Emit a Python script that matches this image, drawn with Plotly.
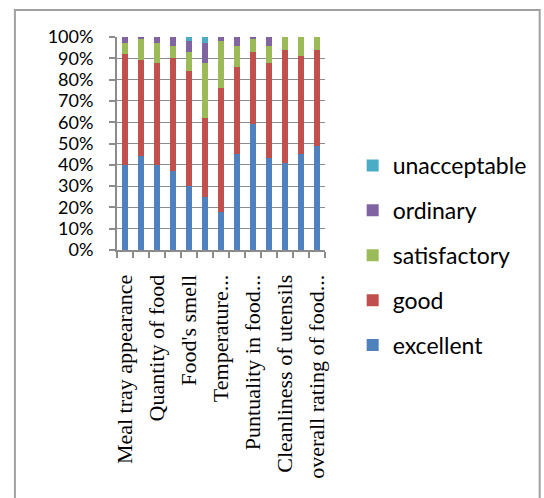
import plotly.graph_objects as go

categories = ["Meal tray appearance", "", "Quantity of food", "", "Food's smell", "",
              "Temperature...", "", "Puntuality in food...", "", "Cleanliness of utensils", "",
              "overall rating of food..."]
excellent    = [0.40, 0.44, 0.40, 0.37, 0.30, 0.25, 0.18, 0.45, 0.59, 0.43, 0.41, 0.45, 0.49]
good         = [0.52, 0.45, 0.48, 0.53, 0.54, 0.37, 0.58, 0.41, 0.34, 0.45, 0.53, 0.46, 0.45]
satisfactory = [0.05, 0.10, 0.09, 0.06, 0.09, 0.26, 0.22, 0.10, 0.06, 0.08, 0.06, 0.09, 0.06]
ordinary     = [0.03, 0.01, 0.03, 0.04, 0.05, 0.09, 0.02, 0.04, 0.01, 0.04, 0.00, 0.00, 0.00]
unacceptable = [0.00, 0.00, 0.00, 0.00, 0.02, 0.03, 0.00, 0.00, 0.00, 0.00, 0.00, 0.00, 0.00]

series = [("excellent", excellent, "#4F81BD"),
          ("good", good, "#C0504D"),
          ("satisfactory", satisfactory, "#9BBB59"),
          ("ordinary", ordinary, "#8064A2"),
          ("unacceptable", unacceptable, "#4BACC6")]

xpos = list(range(len(categories)))
shown = [i for i, c in enumerate(categories) if c]

fig = go.Figure()
n = len(series)
for k, (name, vals, col) in enumerate(series):
    fig.add_trace(go.Bar(x=xpos, y=vals, name=name, marker_color=col,
                         marker_line_width=0, legendgroup=name, legendrank=n - k))

W, H = 544, 498
L, R, T, B = 117, 335, 37, 250
def px(X):
    return (X - L) / (R - L)
def py(Y):
    return (B - Y) / (B - T)

fig.update_layout(
    width=W, height=H,
    margin=dict(l=L, r=W - R, t=T, b=H - B),
    barmode="stack", bargap=0.6,
    plot_bgcolor="white", paper_bgcolor="white",
    showlegend=True,
    legend=dict(traceorder="grouped", x=px(364), y=py(144), xanchor="left", yanchor="top",
                font=dict(family="Lato", size=23, color="#000000"),
                tracegroupgap=12, bgcolor="rgba(0,0,0,0)", maxheight=420),
    shapes=[dict(type="rect", xref="paper", yref="paper",
                 x0=px(10), x1=px(560), y0=py(520), y1=py(10),
                 line=dict(color="#A0A0A0", width=2), fillcolor="rgba(0,0,0,0)", layer="below")],
)
fig.update_yaxes(range=[0, 1], dtick=0.1, tickformat=".0%",
                 showgrid=True, gridcolor="#8C8C8C", gridwidth=1,
                 showline=True, linecolor="#8C8C8C", linewidth=2,
                 ticks="outside", ticklen=6, tickcolor="#8C8C8C", tickwidth=2,
                 ticklabelstandoff=12,
                 tickfont=dict(family="Lato", size=18, color="#000000"), zeroline=False)
fig.update_xaxes(range=[-0.5, len(categories) - 0.5],
                 tickvals=shown, ticktext=[categories[i] for i in shown],
                 tickangle=-90, ticks="", showgrid=False,
                 showline=True, linecolor="#8C8C8C", linewidth=2,
                 tickfont=dict(family="Liberation Serif", size=22, color="#000000"),
                 ticklabelstandoff=14,
                 minor=dict(tickmode="linear", tick0=-0.5, dtick=1, ticks="outside",
                            ticklen=6, tickcolor="#8C8C8C", tickwidth=2, showgrid=False))

fig.write_html("out.html")
